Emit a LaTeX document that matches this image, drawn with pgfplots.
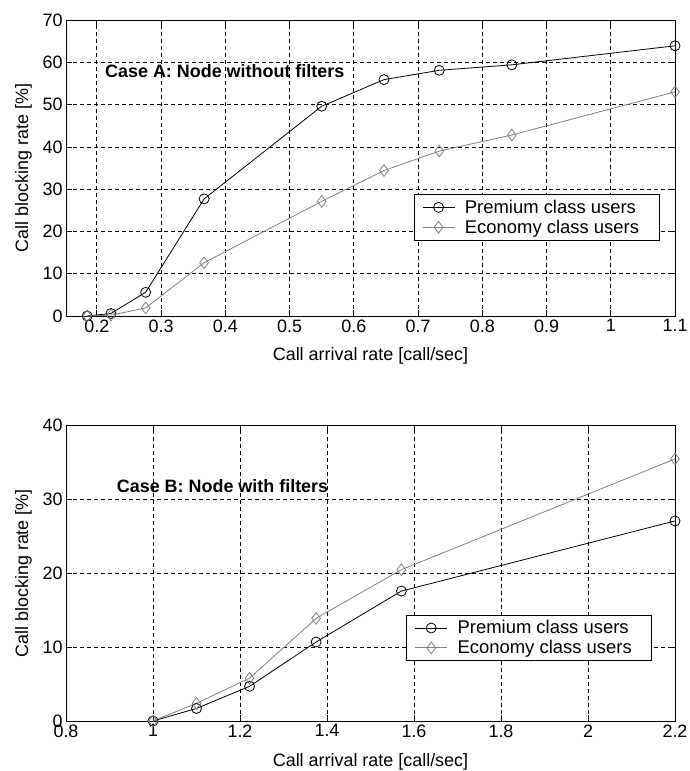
\documentclass[border=0pt]{standalone}
\usepackage{fontspec}
\setmainfont{Liberation Sans}
\usepackage{pgfplots}
\pgfplotsset{compat=1.18}
\definecolor{econ}{gray}{0.5}
\newcommand{\fs}{\fontsize{18}{21}\selectfont}
\newcommand{\fl}{\fontsize{18.5}{21}\selectfont}
\pgfplotsset{mystyle/.style={
  scale only axis, width=609bp,
  axis line style={line width=0.8bp, black},
  grid=major,
  major grid style={black, line width=0.7bp, dash pattern=on 4bp off 3bp},
  tick align=inside, tick pos=both, major tick length=6bp,
  tick style={black, line width=0.7bp},
  /pgf/number format/assume math mode=true,
  ticklabel style={font=\fs},
  label style={font=\fs},
  clip=false,
  legend cell align=left,
  legend style={font=\fl, draw=black, line width=0.8bp, fill=white,
    inner xsep=8bp, inner ysep=3.5bp, row sep=1bp, column sep=8bp,
    nodes={inner sep=2bp}},
  legend image code/.code={\draw[mark repeat=2,mark phase=2] plot coordinates {(0bp,0bp) (16bp,0bp) (32bp,0bp)};},
  prem/.style={black, line width=0.8bp, mark=o, mark size=5bp, mark options={solid, fill=none}},
  eco/.style={econ, line width=0.8bp, mark=diamond, mark size=5.8bp, mark options={solid, fill=none}},
}}
\begin{document}
\begin{tikzpicture}
\begin{axis}[mystyle, height=296bp, at={(66bp,455bp)}, anchor=south west,
  xmin=0.152, xmax=1.1, ymin=0, ymax=70,
  xtick={0.2,0.3,0.4,0.5,0.6,0.7,0.8,0.9,1,1.1},
  ytick={0,10,20,30,40,50,60,70},
  xlabel={Call arrival rate [call/sec]},
  ylabel={Call blocking rate [\%]},
  xlabel style={at={(axis description cs:0.5,-0.135)}, anchor=center},
  ylabel style={at={(axis description cs:-0.0698,0.5)}, anchor=center},
  legend style={at={(0.571,0.412)}, anchor=north west},
]
\addplot[prem] coordinates {(0.185,0) (0.222,0.6) (0.276,5.6) (0.367,27.7) (0.550,49.6) (0.647,55.9) (0.733,58.1) (0.846,59.4) (1.1,63.9)};
\addlegendentry{Premium class users\hspace*{10bp}}
\addplot[eco] coordinates {(0.185,0) (0.222,0.2) (0.276,1.9) (0.367,12.6) (0.550,27.1) (0.647,34.4) (0.733,39.0) (0.846,42.8) (1.1,53.0)};
\addlegendentry{Economy class users\hspace*{10bp}}
\node[anchor=west, inner sep=0pt, font=\fs\bfseries] at (axis cs:0.2127,57.9) {Case A: Node without filters};
\end{axis}
\begin{axis}[mystyle, height=295.3bp, at={(66bp,50bp)}, anchor=south west,
  xmin=0.8, xmax=2.2, ymin=0, ymax=40,
  xtick={0.8,1,1.2,1.4,1.6,1.8,2,2.2},
  ytick={0,10,20,30,40},
  xlabel={Call arrival rate [call/sec]},
  ylabel={Call blocking rate [\%]},
  xlabel style={at={(axis description cs:0.5,-0.140)}, anchor=center},
  ylabel style={at={(axis description cs:-0.0698,0.5)}, anchor=center},
  legend style={at={(0.559,0.360)}, anchor=north west},
]
\addplot[prem] coordinates {(1.0,0) (1.1,1.7) (1.222,4.7) (1.375,10.7) (1.571,17.6) (2.2,27.1)};
\addlegendentry{Premium class users\hspace*{10bp}}
\addplot[eco] coordinates {(1.0,0) (1.1,2.4) (1.222,5.8) (1.375,13.9) (1.571,20.5) (2.2,35.5)};
\addlegendentry{Economy class users\hspace*{10bp}}
\node[anchor=west, inner sep=0pt, font=\fs\bfseries] at (axis cs:0.9166,31.8) {Case B: Node with filters};
\end{axis}
\pgfresetboundingbox
\path (0,0) rectangle (690bp,771bp);
\end{tikzpicture}
\end{document}
